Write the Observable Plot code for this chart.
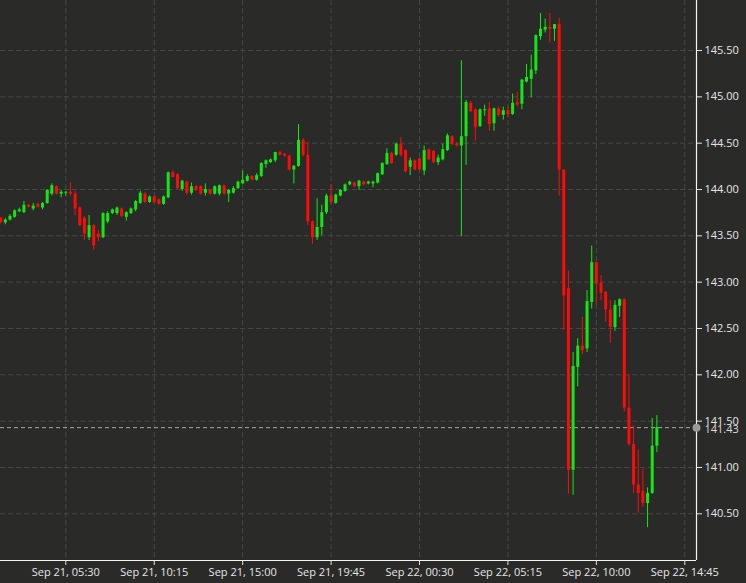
<!DOCTYPE html>
<html>
<head>
<meta charset="utf-8">
<script src="https://cdn.jsdelivr.net/npm/d3@7"></script>
<script src="https://cdn.jsdelivr.net/npm/@observablehq/plot@0.6"></script>
<style>
  html, body { margin: 0; padding: 0; background: #2a2b29; }
  #chart { width: 746px; height: 583px; }
</style>
</head>
<body>
<div id="chart"></div>
<script>
// 15-minute candles, USD/JPY, Sep 21 02:00 -> Sep 22 13:15 (UTC)
const startTime = "2022-09-21T02:00:00Z";
const intervalMinutes = 15;

const opens = [
143.69,143.64,143.67,143.70,143.76,143.75,143.83,143.79,143.84,143.80,
143.85,143.95,144.03,143.95,143.96,143.97,143.95,143.80,143.69,143.48,
143.61,143.52,143.48,143.65,143.74,143.74,143.79,143.70,143.74,143.78,
143.85,143.95,143.86,143.92,143.89,143.84,143.91,144.18,144.16,144.00,
144.08,143.96,144.03,144.03,143.96,143.99,143.95,143.95,144.04,143.95,
143.96,144.01,144.06,144.09,144.14,144.10,144.14,144.27,144.29,144.31,
144.40,144.38,144.36,144.21,144.25,144.53,144.37,143.65,143.48,143.59,
143.75,143.93,143.85,143.93,143.98,144.05,144.07,144.03,144.08,144.06,
144.06,144.07,144.16,144.27,144.39,144.37,144.49,144.42,144.24,144.31,
144.33,144.20,144.43,144.41,144.29,144.32,144.42,144.57,144.49,144.47,
144.57,144.93,144.86,144.68,144.85,144.87,144.71,144.87,144.80,144.85,
144.81,144.94,144.92,145.16,145.19,145.28,145.65,145.72,145.75,145.73,
145.78,144.21,142.93,140.97,142.08,142.31,142.28,142.78,143.21,142.99,
142.89,142.70,142.51,142.74,142.81,141.64,141.25,140.81,140.74,140.61,
140.72,141.23
];
const highs = [
143.70,143.69,143.73,143.78,143.80,143.87,143.84,143.85,143.85,143.86,
144.00,144.06,144.04,143.99,143.98,144.07,143.98,143.81,143.71,143.72,
143.62,143.56,143.75,143.76,143.79,143.81,143.80,143.76,143.80,143.88,
143.98,143.97,143.93,143.93,143.90,143.93,144.19,144.20,144.17,144.10,
144.09,144.07,144.04,144.04,144.06,144.00,144.04,144.05,144.05,144.00,
144.03,144.09,144.20,144.16,144.15,144.17,144.29,144.32,144.33,144.40,
144.41,144.39,144.37,144.26,144.70,144.55,144.51,143.66,143.90,143.83,
143.95,144.05,143.95,144.00,144.06,144.09,144.08,144.10,144.09,144.09,
144.09,144.18,144.29,144.44,144.40,144.50,144.56,144.43,144.34,144.32,
144.34,144.47,144.44,144.42,144.37,144.49,144.60,144.58,144.51,145.39,
144.96,144.95,144.87,144.87,144.91,144.94,144.88,144.89,144.89,144.89,
145.03,145.05,145.19,145.35,145.45,145.67,145.90,145.84,145.90,145.78,
145.85,144.21,143.12,142.24,142.39,142.62,142.91,143.39,143.22,143.07,
142.90,142.80,142.80,142.82,142.82,142.00,141.45,141.19,140.98,140.78,
141.53,141.56
];
const lows = [
143.63,143.62,143.66,143.69,143.75,143.74,143.80,143.77,143.80,143.78,
143.84,143.93,143.94,143.91,143.93,143.93,143.72,143.60,143.45,143.45,
143.34,143.44,143.47,143.63,143.73,143.72,143.70,143.66,143.73,143.76,
143.84,143.85,143.85,143.85,143.83,143.83,143.90,144.12,144.00,143.98,
143.94,143.94,143.98,143.94,143.93,143.94,143.94,143.93,143.94,143.86,
143.95,144.00,144.06,144.08,144.10,144.09,144.13,144.23,144.28,144.29,
144.36,144.35,144.20,144.06,144.24,144.35,143.61,143.41,143.45,143.50,
143.73,143.83,143.84,143.92,143.97,144.04,144.02,143.99,144.04,144.05,
144.02,144.06,144.15,144.26,144.27,144.36,144.35,144.18,144.15,144.20,
144.20,144.15,144.31,144.28,144.26,144.31,144.41,144.47,144.46,143.49,
144.26,144.83,144.52,144.67,144.79,144.63,144.63,144.78,144.75,144.77,
144.80,144.89,144.86,145.15,144.99,145.24,145.61,145.69,145.58,145.60,
143.93,142.48,140.71,140.70,141.87,142.22,142.24,142.71,142.75,142.80,
142.57,142.34,142.47,142.62,141.60,141.23,140.72,140.50,140.57,140.35,
140.71,141.16
];
const closes = [
143.64,143.67,143.71,143.77,143.78,143.83,143.81,143.82,143.81,143.85,
143.99,144.04,143.95,143.97,143.97,143.95,143.79,143.61,143.52,143.61,
143.39,143.48,143.74,143.74,143.78,143.80,143.71,143.75,143.79,143.87,
143.96,143.86,143.92,143.86,143.84,143.92,144.18,144.13,144.01,144.09,
143.96,144.03,143.99,143.95,144.00,143.95,144.03,144.04,143.95,143.99,
144.01,144.08,144.10,144.14,144.10,144.15,144.28,144.31,144.32,144.40,
144.37,144.36,144.21,144.25,144.53,144.37,143.65,143.48,143.59,143.75,
143.93,143.86,143.94,143.99,144.05,144.08,144.03,144.09,144.05,144.08,
144.08,144.17,144.28,144.39,144.28,144.49,144.37,144.19,144.31,144.21,
144.21,144.42,144.32,144.29,144.34,144.43,144.58,144.49,144.47,144.57,
144.94,144.84,144.67,144.86,144.86,144.70,144.87,144.80,144.85,144.81,
144.93,144.91,145.18,145.21,145.29,145.66,145.73,145.75,145.73,145.78,
144.21,142.85,140.97,142.09,142.31,142.26,142.79,143.21,142.98,142.88,
142.70,142.51,142.75,142.81,141.64,141.25,140.81,140.72,140.61,140.72,
141.23,141.43
];

const xTicks = [
  "2022-09-21T05:30:00Z","2022-09-21T10:15:00Z","2022-09-21T15:00:00Z",
  "2022-09-21T19:45:00Z","2022-09-22T00:30:00Z","2022-09-22T05:15:00Z",
  "2022-09-22T10:00:00Z","2022-09-22T14:45:00Z"
];
const yTicks = [140.5, 141, 141.5, 142, 142.5, 143, 143.5, 144, 144.5, 145, 145.5];
const xDomain = ["2022-09-21T01:59:30Z", "2022-09-22T15:22:45Z"].map(s => new Date(s));
const yDomain = [139.996, 146.04];

const t0 = new Date(startTime).getTime();
const candles = opens.map((o, i) => ({
  date: new Date(t0 + i * intervalMinutes * 60000),
  open: o, high: highs[i], low: lows[i], close: closes[i]
}));
const lastClose = closes[closes.length - 1];
const up = "#12e812", down = "#ff0a0a";
const col = d => d.close >= d.open ? up : down;
const fmtX = d3.utcFormat("%b %d, %H:%M");

const chart = Plot.plot({
  width: 746,
  height: 583,
  marginLeft: 0,
  marginRight: 50,
  marginTop: 0,
  marginBottom: 23,
  style: {background: "#2a2b29", color: "#dcdcdc", fontFamily: "Open Sans", fontSize: "11px"},
  x: {type: "utc", domain: xDomain},
  y: {domain: yDomain},
  marks: [
    Plot.ruleX(xTicks.map(s => new Date(s)), {stroke: "#474845", strokeDasharray: "5,3"}),
    Plot.ruleY(yTicks, {stroke: "#474845", strokeDasharray: "5,3"}),
    Plot.ruleY([lastClose], {stroke: "#a8a8a8", strokeDasharray: "4,3"}),
    Plot.ruleX(candles, {x: "date", y1: "low", y2: "high", stroke: col, strokeWidth: 1, clip: true}),
    Plot.ruleX(candles, {x: "date", y1: "open", y2: "close", stroke: col, strokeWidth: 3, clip: true}),
    Plot.ruleY([yDomain[0]], {stroke: "#f4f4f4", strokeWidth: 1.2}),
    Plot.ruleX([xDomain[1]], {stroke: "#f4f4f4", strokeWidth: 1.2}),
    Plot.axisX(xTicks.map(s => new Date(s)), {tickFormat: fmtX, tickSize: 5, tickPadding: 3, color: "#e6e6e6", label: null}),
    Plot.axisY(yTicks, {anchor: "right", tickFormat: d3.format(".2f"), tickSize: 5, tickPadding: 3, color: "#e6e6e6", label: null}),
    Plot.dot([lastClose], {x: () => xDomain[1], y: d => d, r: 4, fill: "#9a9a9a", stroke: "none"}),
    Plot.text([lastClose], {x: () => xDomain[1], y: d => d, text: d => d3.format(".2f")(d), dx: 8, dy: 2, textAnchor: "start", fill: "#dcdcdc"})
  ]
});
document.getElementById("chart").appendChild(chart);
</script>
</body>
</html>
